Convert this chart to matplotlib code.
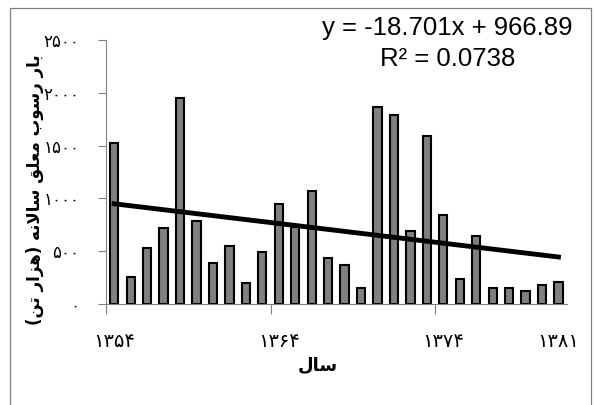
import numpy as np
import matplotlib
matplotlib.use('Agg')
import matplotlib.pyplot as plt
from matplotlib.patches import Rectangle

# data (Persian years 1354..1381, annual suspended sediment load, thousand tons)
years = list(range(1354, 1382))
load = [1525, 253, 532, 722, 1950, 788, 386, 548, 199, 494,
        949, 731, 1069, 437, 364, 149, 1870, 1788, 693, 1595,
        839, 237, 643, 149, 149, 120, 174, 206]
slope, intercept = -18.701, 966.89
r2 = 0.0738
yticks = [0, 500, 1000, 1500, 2000, 2500]
xlabel_idx = [0, 10, 20, 27]
ylabel_text = 'بار رسوب معلق سالانه (هزار تن)'
xlabel_text = 'سال'

fa_digits = str.maketrans('0123456789', '۰۱۲۳۴۵۶۷۸۹')

# minimal arabic shaping (matplotlib has no complex text layout)
forms = {
    'ا': ('\uFE8D', '\uFE8E', None, None),
    'ب': ('\uFE8F', '\uFE90', '\uFE91', '\uFE92'),
    'ت': ('\uFE95', '\uFE96', '\uFE97', '\uFE98'),
    'ر': ('\uFEAD', '\uFEAE', None, None),
    'ز': ('\uFEAF', '\uFEB0', None, None),
    'س': ('\uFEB1', '\uFEB2', '\uFEB3', '\uFEB4'),
    'ع': ('\uFEC9', '\uFECA', '\uFECB', '\uFECC'),
    'ق': ('\uFED5', '\uFED6', '\uFED7', '\uFED8'),
    'ل': ('\uFEDD', '\uFEDE', '\uFEDF', '\uFEE0'),
    'م': ('\uFEE1', '\uFEE2', '\uFEE3', '\uFEE4'),
    'ن': ('\uFEE5', '\uFEE6', '\uFEE7', '\uFEE8'),
    'ه': ('\uFEE9', '\uFEEA', '\uFEEB', '\uFEEC'),
    'و': ('\uFEED', '\uFEEE', None, None),
}

def joins_next(c):
    return c in forms and forms[c][2] is not None

def shape(s):
    # lam-alef ligature
    chars = []
    i = 0
    while i < len(s):
        if s[i] == 'ل' and i + 1 < len(s) and s[i + 1] == 'ا':
            chars.append('LA')
            i += 2
        else:
            chars.append(s[i])
            i += 1
    out = []
    for i, c in enumerate(chars):
        prev = chars[i - 1] if i > 0 else ' '
        nxt = chars[i + 1] if i + 1 < len(chars) else ' '
        pj = joins_next(prev)
        if c == 'LA':
            out.append('\uFEFC' if pj else '\uFEFB')
            continue
        if c not in forms:
            out.append({'(': ')', ')': '('}.get(c, c))
            continue
        iso, fin, ini, med = forms[c]
        nj = ini is not None and (nxt in forms or nxt == 'LA')
        if pj and nj:
            out.append(med)
        elif pj:
            out.append(fin)
        elif nj:
            out.append(ini)
        else:
            out.append(iso)
    return ''.join(reversed(out))

plt.rcParams['font.family'] = ['DejaVu Sans']

fig = plt.figure(figsize=(5.95, 4.05), dpi=100)
fig.patches.append(Rectangle((10 / 595, -0.05), 581 / 595, 1.05 - 7.5 / 405,
                             transform=fig.transFigure, fill=False,
                             edgecolor='#808080', linewidth=0.9))

ax = fig.add_axes([106 / 595, 1 - 303.7 / 405, 460.7 / 595, 263.4 / 405])
x = np.arange(len(years))
ax.bar(x, load, width=0.5, color='#808080', edgecolor='black', linewidth=1.5, zorder=2)

trend = slope * (x + 1) + intercept
ax.plot(x, trend, color='black', linewidth=3.5, zorder=3)

ax.set_xlim(-0.5, len(years) - 0.5)
ax.set_ylim(0, 2500)
ax.set_yticks(yticks)
ax.set_yticklabels([str(v).translate(fa_digits) for v in yticks], fontsize=12)
ax.set_xticks([-0.5, 9.5, 19.5])
ax.set_xticklabels([])
ax.tick_params(axis='y', direction='out', length=6, color='#808080', pad=13)
ax.tick_params(axis='x', direction='out', length=7, color='#808080')
for i in xlabel_idx:
    ax.text(x[i], -0.145, str(years[i]).translate(fa_digits), transform=ax.get_xaxis_transform(),
            ha='center', va='center', fontsize=14)

for s in ['top', 'right']:
    ax.spines[s].set_visible(False)
for s in ['left', 'bottom']:
    ax.spines[s].set_color('#808080')

fig.text(35 / 595, 1 - 190 / 405, shape(ylabel_text), rotation=90, ha='center', va='center',
         fontsize=12, fontweight='bold')
fig.text(318 / 595, 1 - 365 / 405, shape(xlabel_text), ha='center', va='center',
         fontsize=13, fontweight='bold')

fig.text(447 / 595, 1 - 28 / 405, 'y = -18.701x + 966.89', ha='center', va='center',
         fontsize=18.5, family='Liberation Sans')
fig.text(448 / 595, 1 - 59 / 405, 'R² = %s' % r2, ha='center', va='center',
         fontsize=18.5, family='Liberation Sans')

fig.savefig('out.png', dpi=100)
